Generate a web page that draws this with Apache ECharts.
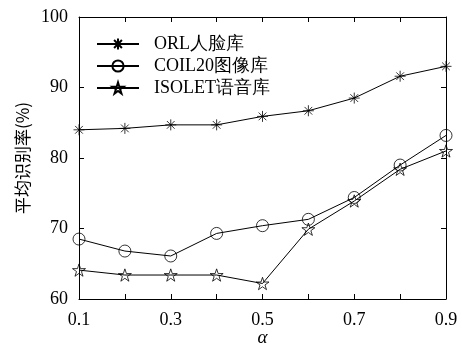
<!DOCTYPE html>
<html><head><meta charset="utf-8">
<script src="https://cdn.jsdelivr.net/npm/echarts@6/dist/echarts.min.js"></script>
<style>html,body{margin:0;padding:0;background:#fff}#c{width:462px;height:347px}</style>
</head><body><div id="c"></div>
<script>
const categories = ['0.1','0.2','0.3','0.4','0.5','0.6','0.7','0.8','0.9'];
const seriesNames = ['ORL人脸库','COIL20图像库','ISOLET语音库'];
const orl    = [84.0, 84.2, 84.7, 84.7, 85.9, 86.7, 88.5, 91.6, 93.0];
const coil20 = [68.5, 66.8, 66.1, 69.3, 70.4, 71.3, 74.4, 79.0, 83.2];
const isolet = [64.1, 63.4, 63.4, 63.4, 62.2, 69.9, 73.9, 78.4, 81.0];
const yTicks = [60, 70, 80, 90, 100];

const ASTER = 'path://M0,-1L0,1M-1,0L1,0M-0.7,-0.7L0.7,0.7M-0.7,0.7L0.7,-0.7';
const STAR = 'path://M0,-1L0.2245,-0.309L0.951,-0.309L0.363,0.118L0.588,0.809L0,0.382L-0.588,0.809L-0.363,0.118L-0.951,-0.309L-0.2245,-0.309Z';
const serif = '"Liberation Serif","DejaVu Serif",serif';

const chart = echarts.init(document.getElementById('c'), null, {renderer:'canvas'});
function mk(name, data, symbol, size){
  return {
    name, type:'line', data, symbol, symbolSize:size, symbolKeepAspect:true,
    showAllSymbol:true, animation:false,
    lineStyle:{color:'#000', width:1},
    itemStyle:{color:'rgba(255,255,255,0)', borderColor:'#000', borderWidth:0.8},
    emphasis:{disabled:true}
  };
}
const tick = {show:true, inside:true, length:5, interval:0, lineStyle:{color:'#000'}};
const axisLine = {show:true, lineStyle:{color:'#000', width:1}};
chart.setOption({
  backgroundColor:'#fff',
  animation:false,
  grid:{left:79, right:16, top:17, bottom:48, containLabel:false, outerBoundsMode:'none'},
  legend:{
    orient:'vertical', left:91, top:30, itemWidth:42, itemHeight:14, itemGap:4,
    data:seriesNames,
    textStyle:{fontFamily:serif, fontSize:18, color:'#000', padding:[0,0,0,10]}
  },
  xAxis:[
    {type:'category', data:categories, boundaryGap:false, position:'bottom',
      axisLine, axisTick:tick, splitLine:{show:false},
      axisLabel:{interval:1, margin:12, fontFamily:serif, fontSize:18, color:'#000'},
      name:'α', nameLocation:'middle', nameGap:29, nameMoveOverlap:false,
      nameTextStyle:{fontFamily:serif, fontStyle:'italic', fontSize:19, color:'#000'}},
    {type:'category', data:categories, boundaryGap:false, position:'top',
      axisLine, axisTick:tick, splitLine:{show:false}, axisLabel:{show:false}}
  ],
  yAxis:[
    {type:'value', min:yTicks[0], max:yTicks[yTicks.length-1], interval:10, position:'left',
      axisLine, axisTick:tick, splitLine:{show:false},
      axisLabel:{margin:11, fontFamily:serif, fontSize:18, color:'#000'},
      name:'平均识别率(%)', nameLocation:'middle', nameGap:48, nameRotate:90, nameMoveOverlap:false,
      nameTextStyle:{fontFamily:'"Noto Sans CJK SC",sans-serif', fontSize:17, color:'#000'}},
    {type:'value', min:yTicks[0], max:yTicks[yTicks.length-1], interval:10, position:'right',
      axisLine, axisTick:tick, splitLine:{show:false}, axisLabel:{show:false}}
  ],
  series:[
    mk(seriesNames[0], orl, ASTER, 11),
    mk(seriesNames[1], coil20, 'circle', 12),
    mk(seriesNames[2], isolet, STAR, 13)
  ]
});
</script></body></html>
